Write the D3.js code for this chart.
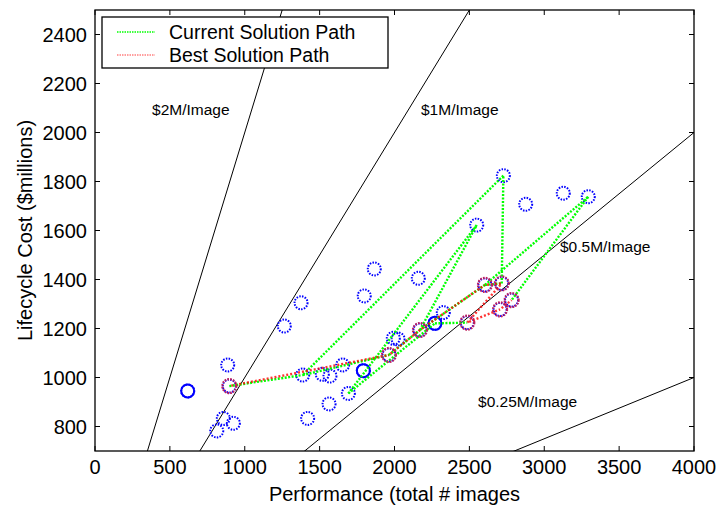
<!DOCTYPE html>
<html>
<head>
<meta charset="utf-8">
<script src="https://cdn.jsdelivr.net/npm/d3@7"></script>
<style>
  html, body { margin: 0; padding: 0; background: #fff; }
  svg { display: block; font-family: "Liberation Sans", Arial, Helvetica, sans-serif; }
</style>
</head>
<body>
<svg id="chart" width="719" height="507"></svg>
<script>
// ---------- data ----------
const xTicks = [0, 500, 1000, 1500, 2000, 2500, 3000, 3500, 4000];
const yTicks = [800, 1000, 1200, 1400, 1600, 1800, 2000, 2200, 2400];

// all evaluated solutions: [performance, cost]
const solutions = [
  [619, 945], [886, 1051], [897, 965], [857, 833], [924, 813], [813, 782],
  [1376, 1305], [1264, 1210], [1387, 1010], [1518, 1013], [1569, 1006], [1654, 1051],
  [1692, 935], [1563, 892], [1420, 833], [2727, 1824], [2876, 1707], [2549, 1622],
  [1865, 1443], [2159, 1405], [1798, 1333], [2604, 1378], [2716, 1384], [2782, 1316],
  [2705, 1278], [2486, 1224], [2326, 1265], [2270, 1221], [3127, 1752], [3294, 1738],
  [1992, 1160], [2024, 1157], [1963, 1092], [2170, 1194], [1792, 1028]
];
// duplicated (overlapping) solutions that look solid
const repeatedSolutions = [[619, 945], [1792, 1028], [2270, 1221]];

// current solution path (visits, in order)
const currentPath = [
  [897, 965], [1387, 1010], [1963, 1092], [2170, 1194], [2604, 1378], [3294, 1738],
  [2782, 1316], [3294, 1738], [2604, 1378], [2716, 1384], [2727, 1824], [1387, 1010],
  [1963, 1092], [2170, 1194], [2549, 1622], [1692, 935], [2270, 1221], [2486, 1224]
];
// best solution path
const bestPath = [
  [897, 965], [1963, 1092], [2170, 1194], [2604, 1378], [2716, 1384],
  [2486, 1224], [2705, 1278], [2782, 1316]
];

// constant cost-per-image lines ($M per image)
const costPerImage = [2, 1, 0.5, 0.25];
const costLabels = ["$2M/Image", "$1M/Image", "$0.5M/Image", "$0.25M/Image"];
const costLabelAnchors = [[381, 2071], [2177, 2071], [3105, 1512], [2558, 880]];

const legendLabels = ["Current Solution Path", "Best Solution Path"];

// ---------- layout ----------
const svg = d3.select("#chart");
const L = 95, R = 694, T = 10, B = 451;
const x = d3.scaleLinear().domain([0, 4000]).range([L, R]);
const y = d3.scaleLinear().domain([700, 2500]).range([B, T]);

svg.append("defs").append("clipPath").attr("id", "clip")
  .append("rect").attr("x", L).attr("y", T).attr("width", R - L).attr("height", B - T);

const plot = svg.append("g").attr("clip-path", "url(#clip)");

// cost lines
costPerImage.forEach(k => {
  plot.append("line")
    .attr("x1", x(0)).attr("y1", y(0))
    .attr("x2", x(4000)).attr("y2", y(4000 * k))
    .attr("stroke", "#000").attr("stroke-width", 1);
});
costLabels.forEach((t, i) => {
  svg.append("text")
    .attr("x", x(costLabelAnchors[i][0])).attr("y", y(costLabelAnchors[i][1]))
    .attr("font-size", 15.5).attr("fill", "#000").text(t);
});

// blue circles (all solutions)
plot.selectAll("circle.sol").data(solutions).enter().append("circle")
  .attr("class", "sol")
  .attr("cx", d => x(d[0])).attr("cy", d => y(d[1])).attr("r", 6.5)
  .attr("fill", "none").attr("stroke", "#0000ff").attr("stroke-width", 2)
  .attr("stroke-dasharray", "1.5,1.3");
plot.selectAll("circle.rep").data(repeatedSolutions).enter().append("circle")
  .attr("class", "rep")
  .attr("cx", d => x(d[0])).attr("cy", d => y(d[1])).attr("r", 6.5)
  .attr("fill", "none").attr("stroke", "#0000ff").attr("stroke-width", 2);

// segments from a path, each undirected segment drawn once
function segments(path) {
  const seen = new Set(), out = [];
  for (let i = 1; i < path.length; i++) {
    const a = path[i - 1], b = path[i];
    const k1 = a.join(",") + "|" + b.join(","), k2 = b.join(",") + "|" + a.join(",");
    if (seen.has(k1) || seen.has(k2)) continue;
    seen.add(k1);
    out.push([a, b]);
  }
  return out;
}

// current path (green dotted)
plot.selectAll("line.cur").data(segments(currentPath)).enter().append("line")
  .attr("class", "cur")
  .attr("x1", d => x(d[0][0])).attr("y1", d => y(d[0][1]))
  .attr("x2", d => x(d[1][0])).attr("y2", d => y(d[1][1]))
  .attr("stroke", "#00ff00").attr("stroke-width", 2.4)
  .attr("stroke-dasharray", "2,1.5");

// best path (red dotted)
plot.selectAll("line.best").data(segments(bestPath)).enter().append("line")
  .attr("class", "best")
  .attr("x1", d => x(d[0][0])).attr("y1", d => y(d[0][1]))
  .attr("x2", d => x(d[1][0])).attr("y2", d => y(d[1][1]))
  .attr("stroke", "#ff0000").attr("stroke-width", 2.4)
  .attr("stroke-dasharray", "2,2").attr("stroke-dashoffset", 2).attr("opacity", 0.8);

// red circles on best solutions
plot.selectAll("circle.best").data(bestPath).enter().append("circle")
  .attr("class", "best")
  .attr("cx", d => x(d[0])).attr("cy", d => y(d[1])).attr("r", 7)
  .attr("fill", "none").attr("stroke", "#c0205a").attr("stroke-width", 2.2)
  .attr("stroke-dasharray", "1.6,1.2");

// ---------- axes box ----------
const axes = svg.append("g");
axes.append("rect").attr("x", L).attr("y", T).attr("width", R - L).attr("height", B - T)
  .attr("fill", "none").attr("stroke", "#000").attr("stroke-width", 1.3);

const tickLen = 5;
xTicks.forEach(v => {
  axes.append("line").attr("x1", x(v)).attr("x2", x(v)).attr("y1", B).attr("y2", B - tickLen)
    .attr("stroke", "#000").attr("stroke-width", 1);
  axes.append("line").attr("x1", x(v)).attr("x2", x(v)).attr("y1", T).attr("y2", T + tickLen)
    .attr("stroke", "#000").attr("stroke-width", 1);
  axes.append("text").attr("x", x(v)).attr("y", 474).attr("text-anchor", "middle")
    .attr("font-size", 20).attr("fill", "#000").text(v);
});
yTicks.forEach(v => {
  axes.append("line").attr("x1", L).attr("x2", L + tickLen).attr("y1", y(v)).attr("y2", y(v))
    .attr("stroke", "#000").attr("stroke-width", 1);
  axes.append("line").attr("x1", R).attr("x2", R - tickLen).attr("y1", y(v)).attr("y2", y(v))
    .attr("stroke", "#000").attr("stroke-width", 1);
  axes.append("text").attr("x", 87).attr("y", y(v) + 7).attr("text-anchor", "end")
    .attr("font-size", 20).attr("fill", "#000").text(v);
});

// axis titles
svg.append("text").attr("x", (L + R) / 2).attr("y", 501).attr("text-anchor", "middle")
  .attr("font-size", 20).attr("fill", "#000").text("Performance (total # images");
svg.append("text").attr("transform", `translate(32,${(T + B) / 2}) rotate(-90)`)
  .attr("text-anchor", "middle").attr("font-size", 20).attr("fill", "#000")
  .text("Lifecycle Cost ($millions)");

// ---------- legend ----------
const lg = svg.append("g");
lg.append("rect").attr("x", 102).attr("y", 17).attr("width", 286).attr("height", 51)
  .attr("fill", "#fff").attr("stroke", "#000").attr("stroke-width", 1.3);
const legendColors = ["#00ff00", "#ff8080"];
legendLabels.forEach((t, i) => {
  const yy = 32 + i * 23;
  lg.append("line").attr("x1", 117).attr("x2", 155).attr("y1", yy).attr("y2", yy)
    .attr("stroke", legendColors[i]).attr("stroke-width", 1.5).attr("stroke-dasharray", "1.5,1");
  lg.append("text").attr("x", 169).attr("y", yy + 7).attr("font-size", 19.5)
    .attr("fill", "#000").text(t);
});
</script>
</body>
</html>
